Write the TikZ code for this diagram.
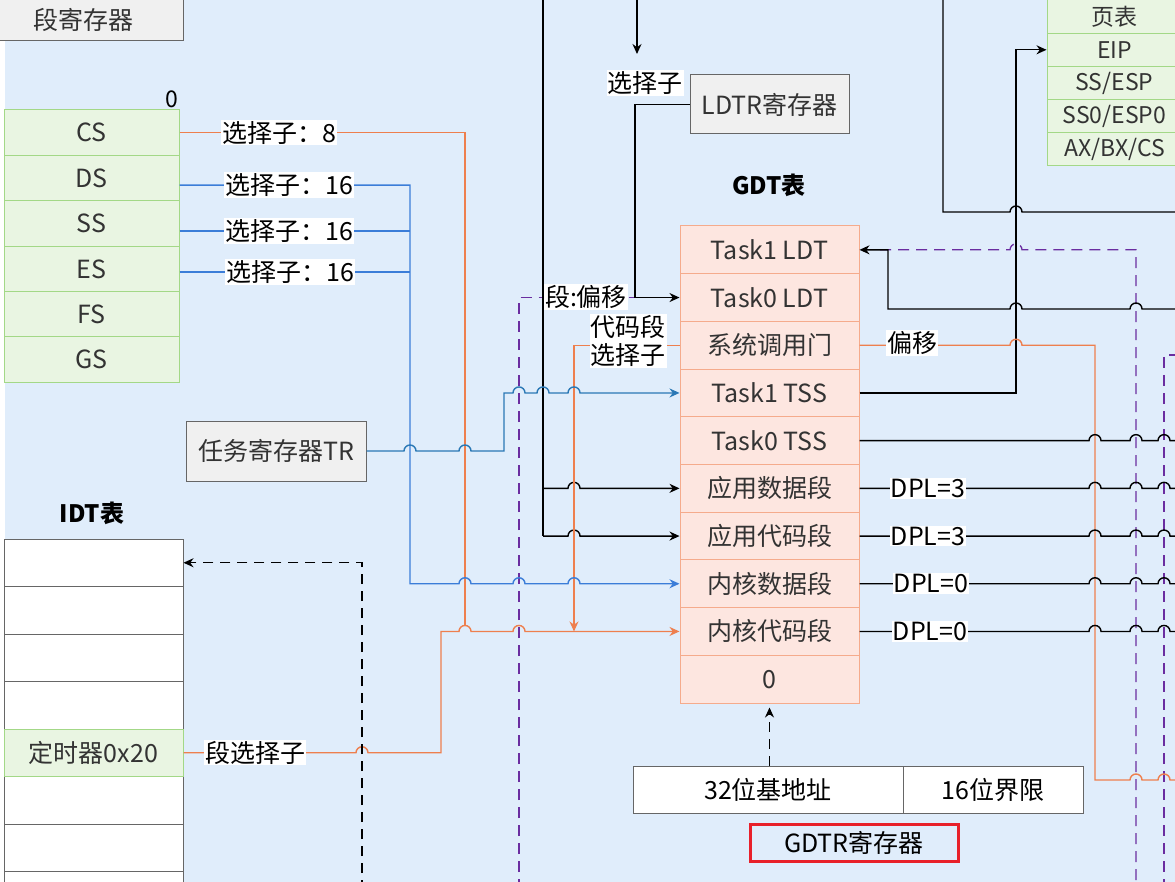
\documentclass[tikz,border=0pt]{standalone}
\usepackage{fontspec}
\setmainfont{Noto Sans CJK SC}
\usetikzlibrary{arrows.meta}
\definecolor{bgc}{HTML}{E0EDFB}
\definecolor{greenF}{HTML}{E9F5E2}
\definecolor{greenB}{HTML}{A3D887}
\definecolor{gdtF}{HTML}{FDE6E0}
\definecolor{gdtB}{HTML}{F5AB8C}
\definecolor{orgc}{HTML}{EE7F4E}
\definecolor{bluc}{HTML}{3B7DD8}
\definecolor{blu2c}{HTML}{2A78B5}
\definecolor{purc}{HTML}{6A2DA0}
\definecolor{txtc}{HTML}{333333}
\definecolor{grayF}{HTML}{F0F0F0}
\definecolor{grayB}{HTML}{666666}
\definecolor{redc}{HTML}{E8202A}
\def\hopat#1#2{-- (#1-6,#2) arc[start angle=180,end angle=0,radius=6pt]}
\begin{document}
\begin{tikzpicture}[x=1pt,y=-1pt,
  every node/.style={font=\fontsize{25}{28}\selectfont},
  graybox/.style={draw=grayB, fill=grayF, text=txtc, line width=1pt, inner sep=0pt},
  greenrow/.style={draw=greenB, fill=greenF, text=txtc, line width=1pt, minimum width=175pt, minimum height=45.4pt, inner sep=0pt},
  smallrow/.style={greenrow, minimum width=135pt, minimum height=33.2pt, font=\fontsize{23}{26}\selectfont},
  gdtrow/.style={draw=gdtB, fill=gdtF, text=txtc, line width=1pt, minimum width=179pt, minimum height=47.7pt, inner sep=0pt},
  idtrow/.style={draw=grayB, fill=white, line width=1pt, minimum width=179pt, minimum height=47.5pt, inner sep=0pt},
  wbox/.style={draw=grayB, fill=white, text=black, line width=1pt, minimum height=47pt, inner sep=0pt},
  lbl/.style={fill=white, text=black, inner sep=1pt},
  ttl/.style={text=black, font=\fontsize{24}{28}\selectfont\bfseries},
  arr/.style={-{Stealth[length=10pt,width=9pt]}},
  arrrev/.style={{Stealth[length=10pt,width=9pt]}-},
  blk/.style={draw=black, line width=1.4pt},
  org/.style={draw=orgc, line width=1.4pt},
  blu/.style={draw=bluc, line width=1.4pt},
  blu2/.style={draw=blu2c, line width=1.4pt},
  pdash/.style={draw=purc, line width=1.3pt, dash pattern=on 11pt off 7pt},
  kdash/.style={draw=black, line width=1.4pt, dash pattern=on 10pt off 7pt},
]
\useasboundingbox (0,0) rectangle (1175,882);
\clip (0,0) rectangle (1175,882);
\fill[white] (0,0) rectangle (1175,882);
\fill[bgc] (5,0) rectangle (1175,882);

% ---------- boxes ----------
\node[graybox, minimum width=199pt, minimum height=43pt] (segreg) at (83.5,19.5) {段寄存器};
\node[text=black, font=\fontsize{23}{26}\selectfont] (zero) at (172,99) {0};

\node[greenrow] (cs) at (91.5,132.7) {CS};
\node[greenrow] (ds) at (91.5,178.1) {DS};
\node[greenrow] (ss) at (91.5,223.5) {SS};
\node[greenrow] (es) at (91.5,268.9) {ES};
\node[greenrow] (fs) at (91.5,314.3) {FS};
\node[greenrow] (gs) at (91.5,359.7) {GS};

\node[graybox, minimum width=180pt, minimum height=60pt] (tr) at (276,451) {任务寄存器TR};
\node[graybox, minimum width=159pt, minimum height=59pt] (ldtr) at (769.5,104.5) {LDTR寄存器};

\node[ttl] (gdtt) at (769,185) {GDT表};
\node[ttl] (idtt) at (92,513) {IDT表};

\node[gdtrow] (g1) at (769.5,249.85) {Task1 LDT};
\node[gdtrow] (g2) at (769.5,297.55) {Task0 LDT};
\node[gdtrow] (g3) at (769.5,345.25) {系统调用门};
\node[gdtrow] (g4) at (769.5,392.95) {Task1 TSS};
\node[gdtrow] (g5) at (769.5,440.65) {Task0 TSS};
\node[gdtrow] (g6) at (769.5,488.35) {应用数据段};
\node[gdtrow] (g7) at (769.5,536.05) {应用代码段};
\node[gdtrow] (g8) at (769.5,583.75) {内核数据段};
\node[gdtrow] (g9) at (769.5,631.45) {内核代码段};
\node[gdtrow] (g10) at (769.5,679.15) {0};

\node[smallrow] (pgt) at (1114.5,16.6) {页表};
\node[smallrow] (eip) at (1114.5,49.8) {EIP};
\node[smallrow] (ssesp) at (1114.5,83.0) {SS/ESP};
\node[smallrow] (ss0) at (1114.5,116.2) {SS0/ESP0};
\node[smallrow] (axbx) at (1114.5,149.4) {AX/BX/CS};

\node[idtrow] (i1) at (93.5,562.75) {};
\node[idtrow] (i2) at (93.5,610.25) {};
\node[idtrow] (i3) at (93.5,657.75) {};
\node[idtrow] (i4) at (93.5,705.25) {};
\node[idtrow] (i6) at (93.5,800.25) {};
\node[idtrow] (i7) at (93.5,847.75) {};
\node[idtrow] (i8) at (93.5,895.25) {};
\node[idtrow, draw=greenB, fill=greenF, text=txtc] (timer) at (93.5,752.75) {定时器0x20};

\node[wbox, minimum width=270pt] (base) at (768,789.5) {32位基地址};
\node[wbox, minimum width=180pt] (limit) at (993,789.5) {16位界限};
\node[draw=redc, line width=3pt, text=black, minimum width=208pt, minimum height=37pt, inner sep=0pt] (gdtr) at (854,842.5) {GDTR寄存器};

% ---------- free ends ----------
\coordinate (t1) at (543,-5);
\coordinate (t2) at (637,-5);
\coordinate (t2e) at (637,54);
\coordinate (t3) at (943,-5);
\coordinate (pl) at (519,890);
\coordinate (kd) at (362,890);
\coordinate (pr1) at (1136,890);
\coordinate (pr2) at (1164,890);
\coordinate (pr2s) at (1180,355);

% ---------- left connectors ----------
\draw[pdash] (pl) -- (519,297.55) -- (635,297.55);
\draw[blk] (t1) -- (543,536.05);
\draw[blk,arr] (543,536.05) \hopat{574}{536.05} -- (g7.west);
\draw[blk,arr] (543,488.35) \hopat{574}{488.35} -- (g6.west);
\draw[blk,arr] (t2) -- (t2e);
\draw[blk,arr] (ldtr.west) -- (635,104.5) -- (635,297.55) -- (g2.west);
\draw[org,arr] (g3.west) -- (574,345.25) -- (574,631.45);
\draw[org] (cs.east) -- (465,132.7) -- (465,626);
\draw[blu,arr] ([yshift=-7pt]ds.east) -- (410,185.1) -- (410,583.75) \hopat{465}{583.75} \hopat{519}{583.75} \hopat{574}{583.75} -- (g8.west);
\draw[blu] ([yshift=-7.5pt]ss.east) -- (410,231);
\draw[blu] ([yshift=-3pt]es.east) -- (410,271.9);
\draw[blu2,arr] (tr.east) \hopat{410}{451} \hopat{465}{451} -- (504,451) -- (504,392.95) \hopat{519}{392.95} \hopat{543}{392.95} \hopat{574}{392.95} -- (g4.west);
\draw[org,arr] (timer.east) \hopat{362}{752.75} -- (441,752.75) -- (441,631.45) \hopat{465}{631.45} \hopat{519}{631.45} -- (g9.west);
\draw[kdash,arr] (kd) -- (362,562.75) -- (i1.east);
\draw[kdash,arr] (g10.south |- base.north) -- ([yshift=-4pt]g10.south);

% ---------- right connectors ----------
\draw[blk] (t3) -- (943,212) \hopat{1016}{212} -- (1180,212);
\draw[blk,arr] (g4.east) -- (1016,392.95) -- (1016,49.8) -- (eip.west);
\draw[pdash] (880,249.85) \hopat{1016}{249.85} -- (1136,249.85) -- (pr1);
\draw[blk,arrrev] (g1.east) -- (888,249.85) -- (888,309) \hopat{1016}{309} \hopat{1136}{309} -- (1180,309);
\draw[pdash] (pr2s) -- (1164,355) -- (pr2);
\draw[org] (g3.east) \hopat{1016}{345.25} -- (1095,345.25) -- (1095,780) \hopat{1136}{780} \hopat{1164}{780} -- (1180,780);
\draw[blk] (g5.east) \hopat{1095}{440.65} \hopat{1136}{440.65} \hopat{1164}{440.65} -- (1180,440.65);
\draw[blk] (g6.east) \hopat{1095}{488.35} \hopat{1136}{488.35} \hopat{1164}{488.35} -- (1180,488.35);
\draw[blk] (g7.east) \hopat{1095}{536.05} \hopat{1136}{536.05} \hopat{1164}{536.05} -- (1180,536.05);
\draw[blk] (g8.east) \hopat{1095}{583.75} \hopat{1136}{583.75} \hopat{1164}{583.75} -- (1180,583.75);
\draw[blk] (g9.east) \hopat{1095}{631.45} \hopat{1136}{631.45} \hopat{1164}{631.45} -- (1180,631.45);

% ---------- labels ----------
\node[lbl] (lcs) at (279,132.7) {选择子：8};
\node[lbl] (lds) at (289,185) {选择子：16};
\node[lbl] (lss) at (289,231) {选择子：16};
\node[lbl] (les) at (290,272) {选择子：16};
\node[lbl] (lsel) at (645,83) {选择子};
\node[lbl] (lseg) at (586,297) {段:偏移};
\node[lbl, align=center] (lcode) at (628,341) {代码段\\选择子};
\node[lbl] (loff) at (912,343) {偏移};
\node[lbl] (ltim) at (255,752.75) {段选择子};
\node[lbl] (d6) at (928,488.35) {DPL=3};
\node[lbl] (d7) at (928,536.05) {DPL=3};
\node[lbl] (d8) at (931,583.75) {DPL=0};
\node[lbl] (d9) at (930,631.45) {DPL=0};
\end{tikzpicture}
\end{document}
